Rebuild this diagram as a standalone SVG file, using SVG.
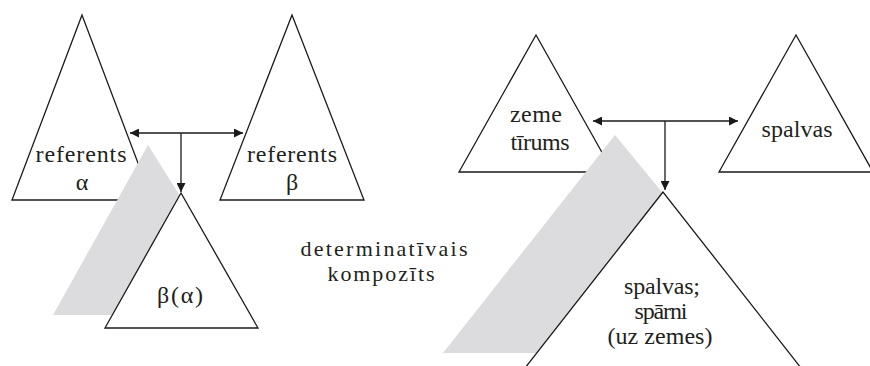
<svg xmlns="http://www.w3.org/2000/svg" width="870" height="366" viewBox="0 0 870 366">
<defs>
<style>
.tri{fill:#fff;stroke:#1a1a1a;stroke-width:1.3}
.shade{fill:#dcdcde;stroke:none}
.lbl{font-family:'Liberation Serif','Times New Roman',serif;font-size:24px;fill:#231f20;text-anchor:middle}
.sm{font-size:22px}
.con{stroke:#1a1a1a;stroke-width:1.3;fill:none}
</style>
<marker id="ah" viewBox="0 0 10 10" refX="10" refY="5" markerWidth="9" markerHeight="9" markerUnits="userSpaceOnUse" orient="auto-start-reverse">
<path d="M0,0 L10,5 L0,10 z" fill="#1a1a1a"/>
</marker>
</defs>
<rect width="870" height="366" fill="#fff"/>
<g id="refA">
<polygon class="tri" points="82,15 12,200 152,200"/>
<text class="lbl" x="81" y="162" textLength="91" lengthAdjust="spacing">referents</text>
<text class="lbl" x="82" y="190">α</text>
</g>
<g id="refB">
<polygon class="tri" points="292,15 220,200 364,200"/>
<text class="lbl" x="292" y="162" textLength="90" lengthAdjust="spacing">referents</text>
<text class="lbl" x="292" y="190">β</text>
</g>
<g id="zeme">
<polygon class="tri" points="536,35 459,172 613,172"/>
<text class="lbl" x="536" y="122" textLength="52" lengthAdjust="spacing">zeme</text>
<text class="lbl" x="540" y="150" textLength="59" lengthAdjust="spacing">tīrums</text>
</g>
<g id="spalvas">
<polygon class="tri" points="796,35 719,172 873,172"/>
<text class="lbl" x="797" y="137" textLength="71" lengthAdjust="spacing">spalvas</text>
</g>
<g id="shade1">
<polygon class="shade" points="148,145 180,196 140,315 53,315"/>
</g>
<g id="shade2">
<polygon class="shade" points="615,135 666,197 560,353 443,353"/>
</g>
<g id="compound1">
<polygon class="tri" points="181,193 105,328 258,328"/>
<text class="lbl" x="180" y="303" textLength="46" lengthAdjust="spacing">β(α)</text>
</g>
<g id="compound2">
<polygon class="tri" points="663,192 514,382 812,382"/>
<text class="lbl" x="662" y="294" textLength="76" lengthAdjust="spacing">spalvas;</text>
<text class="lbl" x="661" y="319" textLength="53" lengthAdjust="spacing">spārni</text>
<text class="lbl" x="660" y="344" textLength="105" lengthAdjust="spacing">(uz zemes)</text>
</g>
<g id="label">
<text class="lbl sm" x="384" y="256" textLength="167" lengthAdjust="spacing">determinatīvais</text>
<text class="lbl sm" x="381" y="281" textLength="107" lengthAdjust="spacing">kompozīts</text>
</g>
<g id="connectors">
<line class="con" x1="130" y1="133" x2="243" y2="133" marker-start="url(#ah)" marker-end="url(#ah)"/>
<line class="con" x1="181" y1="133" x2="181" y2="192" marker-end="url(#ah)"/>
<line class="con" x1="593" y1="121" x2="738" y2="121" marker-start="url(#ah)" marker-end="url(#ah)"/>
<line class="con" x1="665" y1="121" x2="665" y2="190" marker-end="url(#ah)"/>
</g>
</svg>
